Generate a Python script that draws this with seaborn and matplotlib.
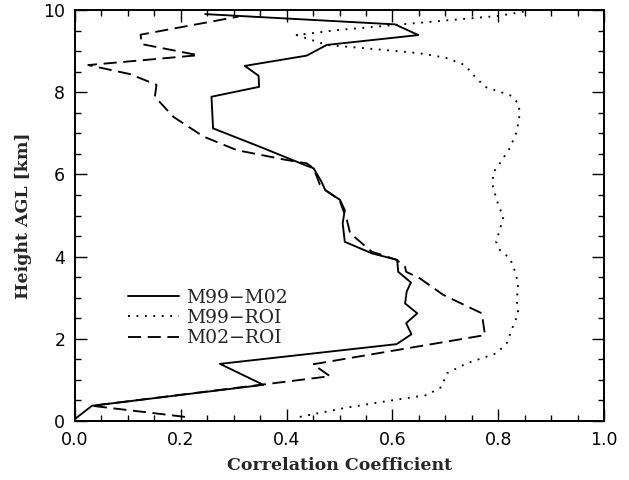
import matplotlib
matplotlib.use("Agg")
import matplotlib.pyplot as plt
import seaborn as sns
import pandas as pd
from matplotlib.ticker import MultipleLocator

# ---- data ----
m99_m02_height = [0.05, 0.37, 0.88, 1.39, 1.87, 2.11, 2.38, 2.62, 2.86, 3.15, 3.37, 3.63, 3.92,
                  4.08, 4.36, 4.81, 5.13, 5.38, 5.62, 5.82, 6.15, 6.21, 6.67, 7.12, 7.89, 8.13,
                  8.40, 8.64, 8.89, 9.15, 9.39, 9.65, 9.90]
m99_m02_corr = [0.000, 0.032, 0.356, 0.274, 0.608, 0.636, 0.626, 0.647, 0.624, 0.627, 0.635, 0.611, 0.609,
                0.561, 0.510, 0.506, 0.510, 0.501, 0.473, 0.466, 0.451, 0.438, 0.350, 0.261, 0.258, 0.348,
                0.347, 0.321, 0.438, 0.476, 0.649, 0.605, 0.246]

m99_roi_height = [0.10, 0.31, 0.47, 0.63, 0.83, 1.16, 1.40, 1.65, 1.89, 2.34, 2.62, 2.94, 3.35, 3.75,
                  3.96, 4.16, 4.36, 4.65, 4.97, 5.26, 5.70, 6.03, 6.27, 6.64, 7.04, 7.49, 7.73, 7.93,
                  8.13, 8.42, 8.66, 8.84, 8.95, 9.03, 9.15, 9.39, 9.51, 9.64, 9.86, 9.97]
m99_roi_corr = [0.425, 0.507, 0.583, 0.665, 0.693, 0.703, 0.740, 0.797, 0.816, 0.829, 0.838, 0.835, 0.838, 0.829,
                0.822, 0.803, 0.796, 0.803, 0.810, 0.800, 0.790, 0.790, 0.803, 0.822, 0.835, 0.841, 0.838, 0.822,
                0.775, 0.753, 0.737, 0.700, 0.650, 0.583, 0.476, 0.419, 0.495, 0.608, 0.803, 0.852]

m02_roi_height = [0.10, 0.37, 1.09, 1.38, 2.09, 2.62, 3.07, 3.47, 3.63, 3.75, 3.92, 4.12, 4.57, 4.89,
                  5.20, 5.38, 5.60, 5.75, 6.15, 6.27, 6.35, 6.59, 6.92, 7.40, 7.89, 8.18, 8.44, 8.66,
                  8.90, 9.17, 9.40, 9.84]
m02_roi_corr = [0.208, 0.032, 0.482, 0.450, 0.775, 0.769, 0.696, 0.652, 0.626, 0.624, 0.608, 0.561, 0.520, 0.514,
                0.505, 0.500, 0.475, 0.463, 0.451, 0.438, 0.400, 0.306, 0.243, 0.186, 0.151, 0.154, 0.104, 0.025,
                0.233, 0.126, 0.124, 0.309]

series_names = ["M99\u2212M02", "M99\u2212ROI", "M02\u2212ROI"]
x_ticks = [0.0, 0.2, 0.4, 0.6, 0.8, 1.0]
x_tick_labels = ["0.0", "0.2", "0.4", "0.6", "0.8", "1.0"]
y_ticks = [0, 2, 4, 6, 8, 10]
y_tick_labels = ["0", "2", "4", "6", "8", "10"]

frames = []
for name, h, c in zip(series_names,
                      [m99_m02_height, m99_roi_height, m02_roi_height],
                      [m99_m02_corr, m99_roi_corr, m02_roi_corr]):
    frames.append(pd.DataFrame({"series": name, "height": h, "corr": c}))
df = pd.concat(frames, ignore_index=True)

sns.set_theme(style="ticks")
plt.rcParams["font.family"] = ["DejaVu Sans"]

fig = plt.figure(figsize=(6.29, 4.80), dpi=100)
ax = fig.add_axes([75 / 629, 1 - 421 / 480, (604 - 75) / 629, (421 - 10) / 480])

lw = 1.35
sns.lineplot(data=df, x="corr", y="height", hue="series", style="series",
             hue_order=series_names, style_order=series_names,
             palette=["black", "black", "black"],
             dashes={series_names[0]: "", series_names[1]: (1, 3.5), series_names[2]: (7, 3.5)},
             sort=False, estimator=None, units="series", lw=lw, ax=ax, legend=True)

ax.set_xlim(0, 1)
ax.set_ylim(0, 10)
ax.set_xticks(x_ticks)
ax.set_xticklabels(x_tick_labels)
ax.set_yticks(y_ticks)
ax.set_yticklabels(y_tick_labels)
ax.xaxis.set_minor_locator(MultipleLocator(0.05))
ax.yaxis.set_minor_locator(MultipleLocator(0.5))
ax.tick_params(which="both", direction="in", top=True, right=True, colors="black", width=1.0)
ax.tick_params(which="major", length=8.5, labelsize=12.5, pad=7)
ax.tick_params(which="minor", length=4.3)
for s in ax.spines.values():
    s.set_linewidth(1.4)
    s.set_color("black")
    s.set_visible(True)

ax.set_xlabel("Correlation Coefficient", family="DejaVu Serif", fontweight="bold", fontsize=12.5, labelpad=6)
ax.set_ylabel("Height AGL [km]", family="DejaVu Serif", fontweight="bold", fontsize=12.5, labelpad=8)

leg = ax.legend(loc="upper left", bbox_to_anchor=(0.1, 0.322), frameon=False,
                handlelength=2.75, handletextpad=0.35, labelspacing=0.12,
                prop={"family": "DejaVu Serif", "size": 13.5}, borderpad=0, borderaxespad=0)
for line in leg.get_lines():
    line.set_linewidth(lw)

fig.savefig("out.png", dpi=100)
